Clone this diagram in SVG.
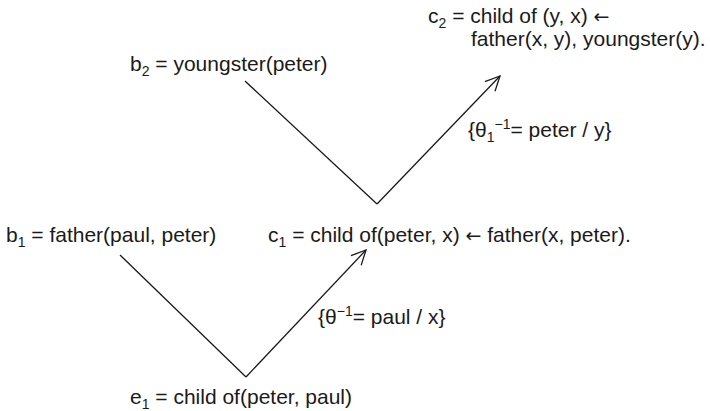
<svg xmlns="http://www.w3.org/2000/svg" width="710" height="411" viewBox="0 0 710 411">
<style>
text{font-family:"Liberation Sans",Arial,sans-serif;font-size:21px;fill:#1a1a1a}
.s{font-size:14px}
.ar{font-family:"DejaVu Sans",sans-serif;font-size:19px}
.ln{stroke:#1a1a1a;stroke-width:1.3;fill:none}
</style>
<defs>
<marker id="ah" markerWidth="17" markerHeight="16" refX="15" refY="7.5" orient="auto" markerUnits="userSpaceOnUse" viewBox="0 0 17 16">
<path d="M0.5,0.5 L15,7.5 L0.5,14.5" fill="none" stroke="#1a1a1a" stroke-width="1.3"/>
</marker>
</defs>
<g id="c2">
<text x="428" y="23">c<tspan class="s" dy="5">2</tspan><tspan dy="-5"> = child of (y, x) </tspan><tspan class="ar">←</tspan></text>
<text x="471" y="46">father(x, y), youngster(y).</text>
</g>
<g id="b2"><text x="130" y="71">b<tspan class="s" dy="5">2</tspan><tspan dy="-5"> = youngster(peter)</tspan></text></g>
<g id="b1"><text x="6" y="242">b<tspan class="s" dy="5">1</tspan><tspan dy="-5"> = father(paul, peter)</tspan></text></g>
<g id="c1"><text x="268" y="242">c<tspan class="s" dy="5">1</tspan><tspan dy="-5"> = child of(peter, x) </tspan><tspan class="ar">←</tspan><tspan> father(x, peter).</tspan></text></g>
<g id="e1"><text x="130" y="404">e<tspan class="s" dy="5">1</tspan><tspan dy="-5"> = child of(peter, paul)</tspan></text></g>
<g id="connectors">
<line class="ln" x1="245" y1="81" x2="377" y2="204"/>
<line class="ln" x1="377" y1="204" x2="500" y2="76" marker-end="url(#ah)"/>
<line class="ln" x1="120" y1="255" x2="246" y2="377"/>
<line class="ln" x1="246" y1="377" x2="366" y2="250" marker-end="url(#ah)"/>
<text x="468" y="137">{θ<tspan class="s" dy="5">1</tspan><tspan class="s" dy="-13">−1</tspan><tspan dy="8">= peter / y}</tspan></text>
<text x="318" y="324">{θ<tspan class="s" dy="-8">−1</tspan><tspan dy="8">= paul / x}</tspan></text>
</g>
</svg>
